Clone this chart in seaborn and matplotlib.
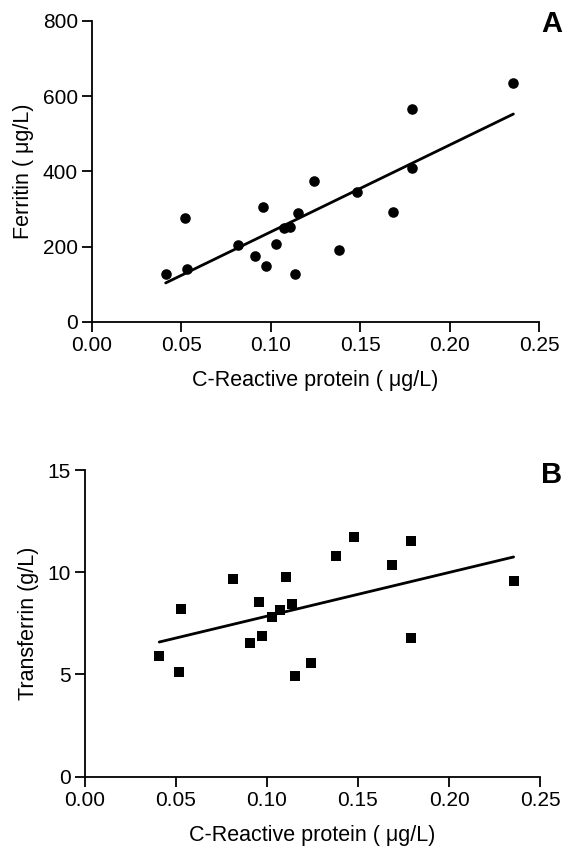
import matplotlib
matplotlib.use("Agg")
import matplotlib.pyplot as plt
import seaborn as sns
import pandas as pd

crp = [0.0412, 0.0522, 0.0530, 0.0815, 0.0910, 0.0955, 0.0973, 0.1031, 0.1072,
       0.1107, 0.1137, 0.1152, 0.1243, 0.1381, 0.1480, 0.1685, 0.1792, 0.1792, 0.2357]
ferritin = [127, 275, 139, 205, 176, 306, 149, 207, 249,
            253, 127, 290, 375, 190, 344, 292, 567, 409, 634]

crp_b = [0.0408, 0.0518, 0.0527, 0.0813, 0.0908, 0.0954, 0.0971, 0.1029, 0.1071,
         0.1104, 0.1136, 0.1152, 0.1242, 0.1379, 0.1480, 0.1685, 0.1789, 0.1789, 0.2355]
transferrin = [5.90, 5.11, 8.19, 9.69, 6.56, 8.53, 6.88, 7.80, 8.16,
               9.75, 8.43, 4.93, 5.56, 10.81, 11.71, 10.36, 11.55, 6.77, 9.56]

x_ticks = [0.00, 0.05, 0.10, 0.15, 0.20, 0.25]
a_ticks = [0, 200, 400, 600, 800]
b_ticks = [0, 5, 10, 15]

sns.set_style("ticks")
plt.rcParams['font.family'] = ['Liberation Sans', 'DejaVu Sans']
plt.rcParams.update({
    "text.color": "black", "axes.labelcolor": "black",
    "xtick.color": "black", "ytick.color": "black", "axes.edgecolor": "black",
})

W, H = 564, 852
fig = plt.figure(figsize=(W / 100, H / 100), dpi=100)

def px_axes(l, r, t, b):
    return fig.add_axes([l / W, 1 - b / H, (r - l) / W, (b - t) / H])

dfa = pd.DataFrame({"crp": crp, "ferritin": ferritin})
dfb = pd.DataFrame({"crp": crp_b, "transferrin": transferrin})

axA = px_axes(92, 539, 21, 321.7)
sns.regplot(data=dfa, x="crp", y="ferritin", ax=axA, ci=None, color="black",
            marker="o", scatter_kws=dict(s=58, linewidths=0, alpha=1, clip_on=False),
            line_kws=dict(lw=2.0))
axA.set_xlim(0, 0.25)
axA.set_ylim(0, 800)
axA.set_xticks(x_ticks)
axA.set_xticklabels([f"{v:.2f}" for v in x_ticks])
axA.set_yticks(a_ticks)
axA.set_xlabel("C-Reactive protein ( μg/L)", fontsize=15.5, labelpad=11)
axA.set_ylabel("Ferritin ( μg/L)", fontsize=15.5)
axA.yaxis.set_label_coords(-0.13, 0.5)

axB = px_axes(85, 540, 470, 776.7)
sns.regplot(data=dfb, x="crp", y="transferrin", ax=axB, ci=None, color="black",
            marker="s", scatter_kws=dict(s=52, linewidths=0, alpha=1, clip_on=False),
            line_kws=dict(lw=2.0))
axB.set_xlim(0, 0.25)
axB.set_ylim(0, 15)
axB.set_xticks(x_ticks)
axB.set_xticklabels([f"{v:.2f}" for v in x_ticks])
axB.set_yticks(b_ticks)
axB.set_xlabel("C-Reactive protein ( μg/L)", fontsize=15.5, labelpad=11)
axB.set_ylabel("Transferrin (g/L)", fontsize=15.5)
axB.yaxis.set_label_coords(-0.102, 0.5)

for ax in (axA, axB):
    sns.despine(ax=ax)
    for s in ("left", "bottom"):
        ax.spines[s].set_linewidth(1.3)
        ax.spines[s].set_color("black")
    ax.tick_params(axis="both", labelsize=15, length=7, width=1.3,
                   color="black", labelcolor="black", pad=3)

fig.text(552 / W, 1 - 32 / H, "A", ha="center", va="baseline",
         fontsize=21, fontweight="bold", color="black")
fig.text(552 / W, 1 - 483 / H, "B", ha="center", va="baseline",
         fontsize=21, fontweight="bold", color="black")

fig.savefig("out.png", dpi=100)
